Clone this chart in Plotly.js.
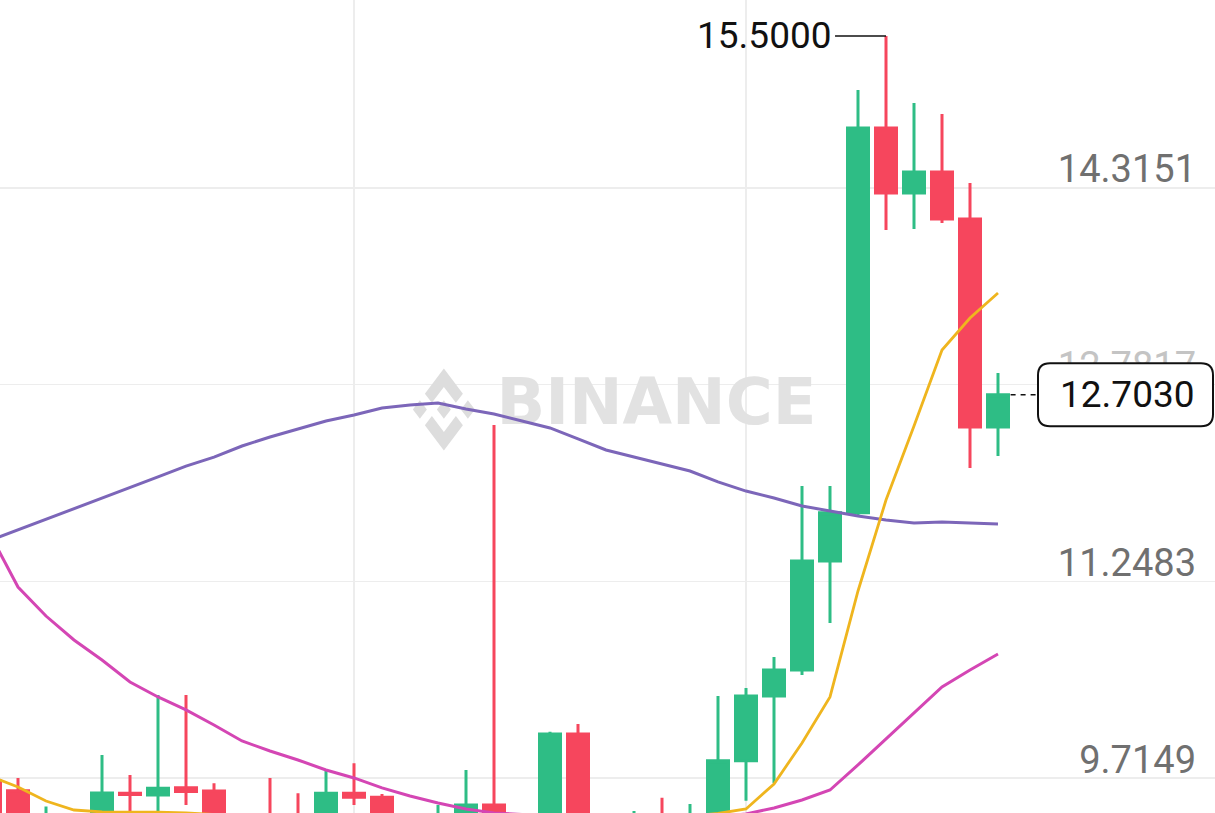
<!DOCTYPE html>
<html>
<head>
<meta charset="utf-8">
<script src="https://cdn.plot.ly/plotly-3.0.1.min.js"></script>
<style>
  html, body { margin: 0; padding: 0; background: #ffffff; }
  #chart { width: 1215px; height: 813px; }
</style>
</head>
<body>
<div id="chart"></div>
<script>
// ---- data (candle index, OHLC) ----
const candleIndex = [-1,0,1,2,3,4,5,6,7,8,9,10,11,12,13,14,15,16,17,18,19,20,21,22,23,24,25,26,27,28,29,30,31,32,33,34,35];
const openVals  = [9.693,9.617,9.33,9.42,9.38,9.598,9.584,9.641,9.615,9.40,9.43,9.43,9.38,9.597,9.566,9.41,9.38,9.40,9.506,9.40,9.40,10.059,9.41,9.38,9.43,9.38,9.42,9.851,10.356,10.558,11.408,11.784,14.783,14.276,14.440,14.074,12.452];
const highVals  = [9.72,9.716,9.494,9.43,9.896,9.740,10.363,10.363,9.675,9.43,9.716,9.597,9.779,9.831,9.592,9.43,9.506,9.779,12.468,9.43,10.077,10.137,9.43,9.459,9.563,9.514,10.356,10.418,10.660,11.992,11.992,15.079,15.500,14.978,14.892,14.354,12.873];
const lowVals   = [9.35,9.30,9.30,9.32,9.33,9.454,9.42,9.506,9.33,9.33,9.33,9.34,9.34,9.506,9.35,9.35,9.35,9.36,9.36,9.36,9.36,9.35,9.35,9.34,9.35,9.34,9.38,9.540,9.678,10.519,10.925,11.766,13.988,13.996,14.042,12.133,12.226];
const closeVals = [9.40,9.36,9.42,9.36,9.600,9.588,9.637,9.612,9.38,9.38,9.37,9.38,9.597,9.566,9.40,9.39,9.43,9.506,9.40,9.42,10.059,9.40,9.39,9.42,9.39,9.43,9.851,10.356,10.558,11.408,11.784,14.783,14.276,14.440,14.074,12.452,12.703];

// moving averages
const ma7  = [9.732,9.646,9.537,9.467,9.452,9.452,9.450,9.444,9.43,9.42,9.41,9.40,9.40,9.41,9.41,9.40,9.40,9.40,9.41,9.41,9.42,9.42,9.42,9.41,9.41,9.42,9.440,9.475,9.670,9.989,10.348,11.174,11.883,12.460,13.052,13.302,13.497];
const ma25 = [11.618,11.205,10.979,10.792,10.636,10.465,10.348,10.247,10.130,10.005,9.927,9.857,9.779,9.717,9.639,9.576,9.522,9.475,9.444,9.43,9.42,9.41,9.40,9.39,9.39,9.40,9.415,9.436,9.483,9.545,9.623,9.818,10.021,10.223,10.426,10.558,10.683];
const ma99 = [11.568,11.650,11.735,11.813,11.899,11.977,12.063,12.148,12.218,12.304,12.374,12.437,12.499,12.546,12.600,12.624,12.639,12.593,12.554,12.499,12.445,12.359,12.273,12.218,12.164,12.109,12.024,11.953,11.899,11.837,11.798,11.759,11.727,11.704,11.712,11.704,11.696];

// axis labels
const priceTicks = [14.3151, 12.7817, 11.2483, 9.7149];
const priceTickLabels = ["14.3151", "12.7817", "11.2483", "9.7149"];
const timeGridIdx = [12, 26];
const lastPrice = 12.7030;
const maxPrice = 15.5000;
const maxIdx = 31;
const watermarkText = "BINANCE";

// ---- styling ----
const GREEN = "#2EBD85", RED = "#F6465D";
const grid = "#EDEDED";
const tickText = priceTickLabels.map((t, i) =>
  i === 1 ? '<span style="color:#C4C4C4">' + t + '</span>' : t);

const traces = [
  { // watermark text (drawn first so marks sit above)
    type: "scatter", mode: "text", x: [22.8], y: [12.60], text: [watermarkText],
    textfont: { family: "DejaVu Sans", size: 64, color: "#E2E2E2", weight: 700 },
    textposition: "middle center", hoverinfo: "skip", showlegend: false
  },
  {
    type: "candlestick", x: candleIndex, open: openVals, high: highVals, low: lowVals, close: closeVals,
    increasing: { line: { color: GREEN, width: 3 }, fillcolor: GREEN },
    decreasing: { line: { color: RED, width: 3 }, fillcolor: RED },
    whiskerwidth: 0, hoverinfo: "skip", showlegend: false
  },
  { type: "scatter", mode: "lines", x: candleIndex, y: ma99, line: { color: "#7C66B9", width: 3 }, hoverinfo: "skip", showlegend: false },
  { type: "scatter", mode: "lines", x: candleIndex, y: ma25, line: { color: "#D446B4", width: 3 }, hoverinfo: "skip", showlegend: false },
  { type: "scatter", mode: "lines", x: candleIndex, y: ma7,  line: { color: "#EFB51E", width: 2.8 }, hoverinfo: "skip", showlegend: false }
];

// Binance logo, unit coordinates (y up)
const logoParts = [
  [[-0.388,0.160],[0,0.548],[0.388,0.160],[0.614,0.385],[0,1],[-0.614,0.385]],
  [[-0.388,-0.160],[0,-0.548],[0.388,-0.160],[0.614,-0.385],[0,-1],[-0.614,-0.385]],
  [[-1,0],[-0.774,0.226],[-0.548,0],[-0.774,-0.226]],
  [[1,0],[0.774,0.226],[0.548,0],[0.774,-0.226]],
  [[-0.226,0],[0,0.226],[0.226,0],[0,-0.226]]
];
const LSX = 31, LSY = 41;
const shapes = logoParts.map(pts => ({
  type: "path", layer: "between", xref: "x", yref: "y",
  xsizemode: "pixel", ysizemode: "pixel", xanchor: 15.21, yanchor: 12.589,
  path: "M " + pts.map(p => (p[0]*LSX).toFixed(1) + "," + (p[1]*LSY).toFixed(1)).join(" L ") + " Z",
  fillcolor: "#DDDDDD", line: { width: 0 }
}));

// max-price leader line
shapes.push({ type: "line", xref: "x", yref: "y", x0: 29.18, x1: maxIdx, y0: maxPrice, y1: maxPrice,
  line: { color: "#111111", width: 1.5 } });
// last-price dashed line
shapes.push({ type: "line", xref: "x", yref: "y", x0: 35.45, x1: 36.35, y0: lastPrice, y1: lastPrice,
  line: { color: "#111111", width: 1.5, dash: "5px,5px" } });
// rounded price box
const hw = 87.5, hh = 31.5, r = 12;
shapes.push({
  type: "path", layer: "above", xref: "paper", yref: "y", xsizemode: "pixel", ysizemode: "pixel",
  xanchor: 1125.5 / 1215, yanchor: lastPrice,
  path: `M ${-hw + r},${-hh} L ${hw - r},${-hh} Q ${hw},${-hh} ${hw},${-hh + r} L ${hw},${hh - r} Q ${hw},${hh} ${hw - r},${hh} L ${-hw + r},${hh} Q ${-hw},${hh} ${-hw},${hh - r} L ${-hw},${-hh + r} Q ${-hw},${-hh} ${-hw + r},${-hh} Z`,
  fillcolor: "#FFFFFF", line: { color: "#111111", width: 2 }
});

const layout = {
  width: 1215, height: 813,
  margin: { l: 0, r: 0, t: 0, b: 0, pad: 0 },
  paper_bgcolor: "#FFFFFF", plot_bgcolor: "#FFFFFF",
  showlegend: false,
  boxgap: 0.25, boxgroupgap: 0,
  xaxis: {
    range: [-0.643, 42.75], tickvals: timeGridIdx, showticklabels: false, ticks: "",
    showgrid: true, gridcolor: grid, gridwidth: 1.5, zeroline: false, showline: false,
    rangeslider: { visible: false }, fixedrange: true
  },
  yaxis: {
    range: [9.4437, 15.7804], tickvals: priceTicks, ticktext: tickText,
    side: "right", ticklabelposition: "inside", ticks: "", ticklabelstandoff: 16, ticklabelshift: -19,
    tickfont: { family: "Roboto", size: 38, color: "#707070" },
    showgrid: true, gridcolor: grid, gridwidth: 1.5, zeroline: false, showline: false, fixedrange: true
  },
  shapes: shapes,
  annotations: [
    { xref: "x", yref: "y", x: 29.14, y: maxPrice, text: maxPrice.toFixed(4), showarrow: false,
      xanchor: "right", yanchor: "middle", font: { family: "Roboto", size: 37, color: "#111111" } },
    { xref: "paper", yref: "y", x: 1127.5 / 1215, y: lastPrice, text: lastPrice.toFixed(4), showarrow: false,
      xanchor: "center", yanchor: "middle", font: { family: "Roboto", size: 37, color: "#111111" } }
  ]
};

Plotly.newPlot("chart", traces, layout, { staticPlot: true, displayModeBar: false });
</script>
</body>
</html>
